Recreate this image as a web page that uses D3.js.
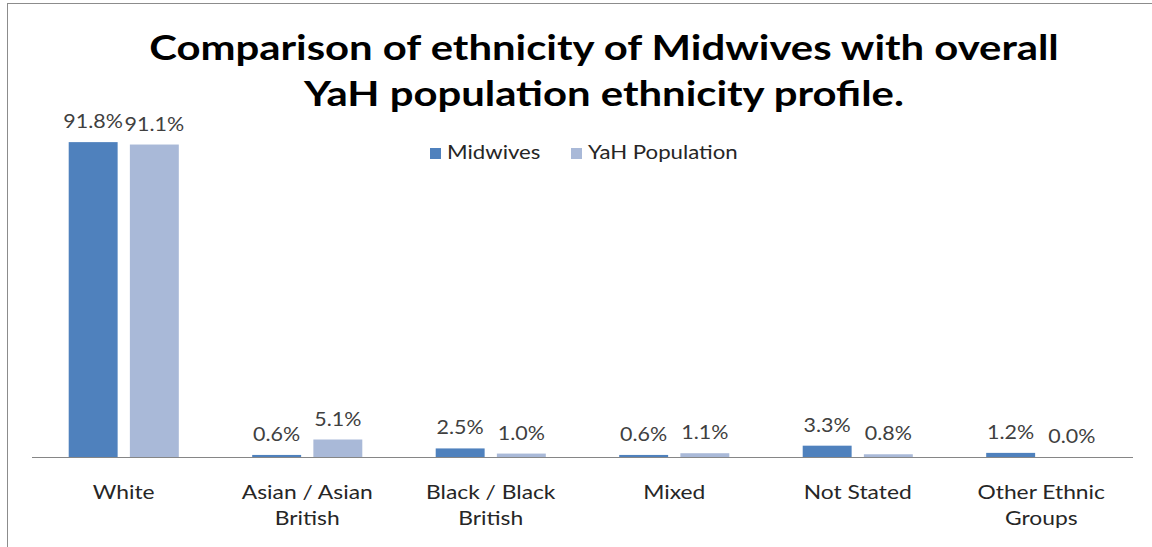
<!DOCTYPE html>
<html>
<head>
<meta charset="utf-8">
<script src="https://cdn.jsdelivr.net/npm/d3@7"></script>
<style>
  html, body { margin: 0; padding: 0; background: #fff; }
  svg { display: block; font-family: Lato, "Open Sans", sans-serif; }
</style>
</head>
<body>
<svg id="chart" width="1152" height="547"></svg>
<script>
const categories = [["White"], ["Asian / Asian", "British"], ["Black / Black", "British"], ["Mixed"], ["Not Stated"], ["Other Ethnic", "Groups"]];
const seriesNames = ["Midwives", "YaH Population"];
const midwives = [91.8, 0.6, 2.5, 0.6, 3.3, 1.2];
const population = [91.1, 5.1, 1.0, 1.1, 0.8, 0.0];
const colors = ["#4F81BD", "#A9B9D8"];
const titleLines = ["Comparison of ethnicity of Midwives with overall", "YaH population ethnicity profile."];

const svg = d3.select("#chart");
const W = 1152, H = 547;

// horizontally widen text to mimic the reference's wide rendering
function stretch(sel, factor) {
  sel.each(function () {
    const len = this.getComputedTextLength();
    d3.select(this).attr("textLength", len * factor).attr("lengthAdjust", "spacingAndGlyphs");
  });
  return sel;
}

// outer border
svg.append("rect").attr("x", 7.5).attr("y", 3.5).attr("width", W + 10).attr("height", H + 10)
  .attr("fill", "none").attr("stroke", "#8c8c8c").attr("stroke-width", 1);

const plot = { left: 32, right: 1133, top: 114, bottom: 457 };

const x0 = d3.scaleBand().domain(d3.range(categories.length)).range([plot.left, plot.right]).paddingInner(0.4).paddingOuter(0.2);
const x1 = d3.scaleBand().domain(d3.range(seriesNames.length)).range([0, x0.bandwidth()]).paddingInner(0.2);
const y = d3.scaleLinear().domain([0, 100]).range([plot.bottom, plot.top]);

const series = [midwives, population];
const fmt = d => d.toFixed(1) + "%";

series.forEach((vals, si) => {
  const g = svg.append("g");
  g.selectAll("rect").data(vals).join("rect")
    .attr("x", (d, i) => x0(i) + x1(si))
    .attr("y", d => y(d))
    .attr("width", x1.bandwidth())
    .attr("height", d => plot.bottom - y(d))
    .attr("fill", colors[si]);
  const t = g.selectAll("text").data(vals).join("text")
    .attr("x", (d, i) => x0(i) + x1(si) + x1.bandwidth() / 2)
    .attr("y", d => y(d) - 14)
    .attr("text-anchor", "middle")
    .attr("font-size", 19.5)
    .attr("fill", "#404040")
    .text(fmt);
  stretch(t, 1.1);
});

// x axis
const xAxis = d3.axisBottom(x0).tickSize(0).tickFormat(() => "");
const ax = svg.append("g").attr("transform", `translate(0,${plot.bottom})`).call(xAxis);
ax.select(".domain").attr("stroke", "#868686").attr("d", `M${plot.left},0.5H${plot.right}`);

// category labels
const catG = svg.append("g");
categories.forEach((lines, i) => {
  lines.forEach((ln, j) => {
    const t = catG.append("text")
      .attr("x", x0(i) + x0.bandwidth() / 2)
      .attr("y", 499 + j * 26)
      .attr("text-anchor", "middle")
      .attr("font-size", 19)
      .attr("fill", "#262626")
      .text(ln);
    stretch(t, 1.2);
  });
});

// title
titleLines.forEach((ln, i) => {
  const t = svg.append("text")
    .attr("x", 604)
    .attr("y", 60 + i * 46)
    .attr("text-anchor", "middle")
    .attr("font-size", 35)
    .attr("font-weight", "bold")
    .attr("fill", "#000")
    .text(ln);
  stretch(t, 1.195);
});

// legend
const legendX = [430, 571];
seriesNames.forEach((n, i) => {
  svg.append("rect").attr("x", legendX[i]).attr("y", 148).attr("width", 11).attr("height", 11).attr("fill", colors[i]);
  const t = svg.append("text").attr("x", legendX[i] + 17).attr("y", 159).attr("font-size", 18.5).attr("fill", "#262626").text(n);
  stretch(t, 1.2);
});
</script>
</body>
</html>
